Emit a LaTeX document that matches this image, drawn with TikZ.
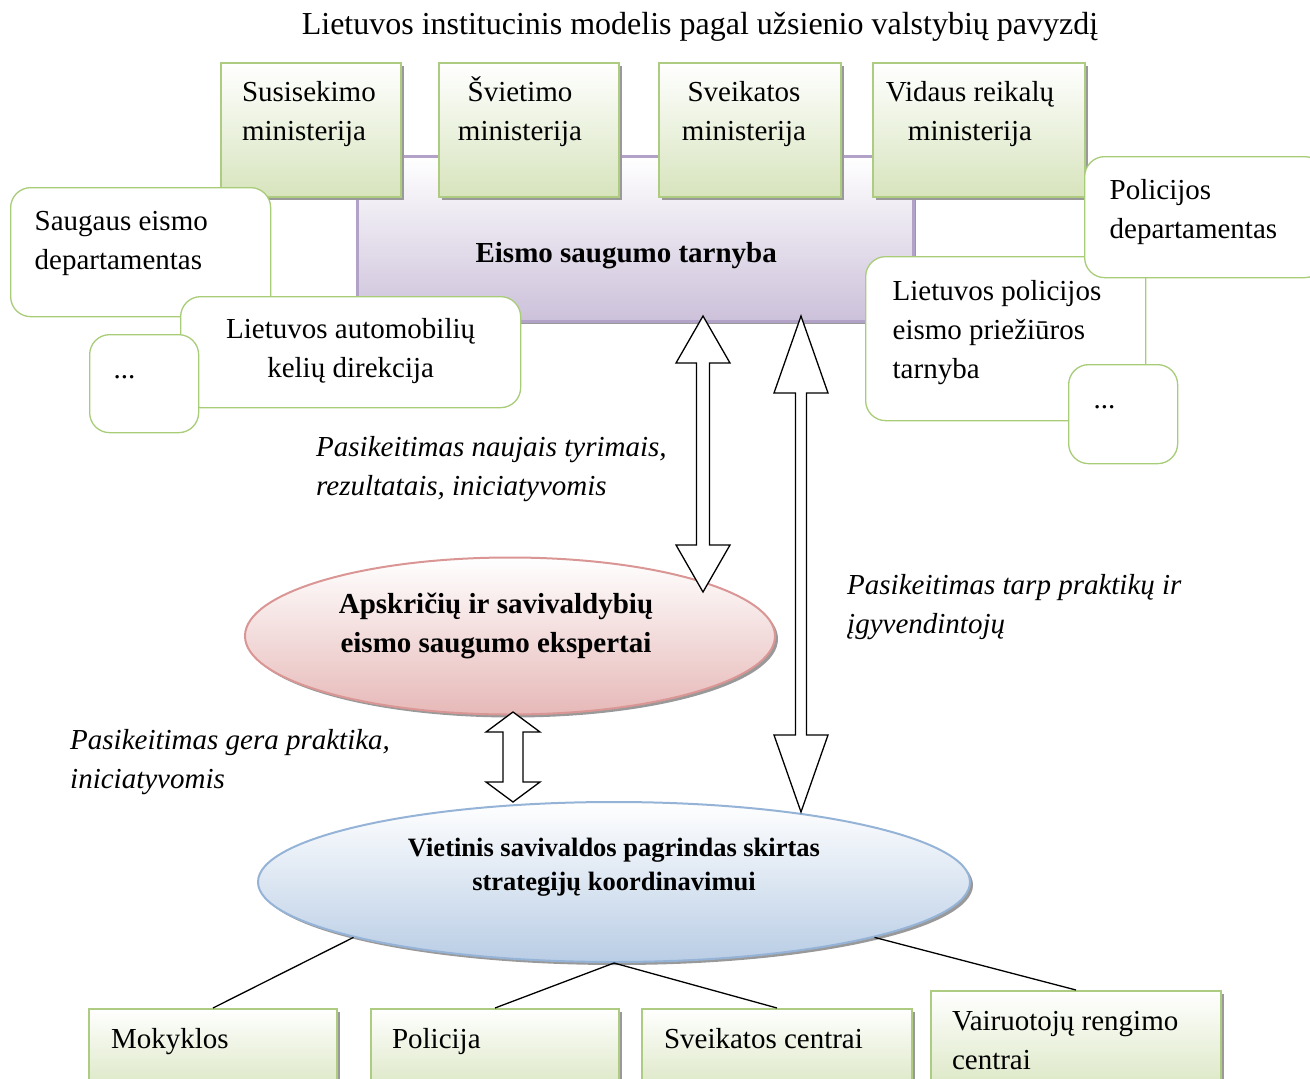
\documentclass[tikz,border=0pt]{standalone}
\usepackage{fontspec}
\setmainfont{Liberation Serif}
\usetikzlibrary{shapes,shadows,positioning,calc}

\definecolor{minborder}{HTML}{AECB82}
\definecolor{minfill}{HTML}{D7E4BD}
\definecolor{ovborder}{HTML}{A8CC78}
\definecolor{tarnborder}{HTML}{B3A2C7}
\definecolor{tarnfill}{HTML}{CCC1DA}
\definecolor{expborder}{HTML}{D99694}
\definecolor{expfill}{HTML}{E6B9B8}
\definecolor{vietborder}{HTML}{95B3D7}
\definecolor{vietfill}{HTML}{B9CDE5}

% text in a box: width, height, first baseline, alignment, text
\newcommand{\boxtxt}[5]{\parbox[c][#2][t]{#1}{#4\rule{0pt}{#3}#5}}
\newcommand{\lft}[1]{\raggedright\leftskip=#1\relax}
\newcommand{\ctr}[1]{\centering\advance\rightskip#1\relax}
% hollow double arrow: top end, bottom end, half shaft, head length
\newcommand{\dblarrow}[4]{%
  \draw[blk] let \p1=(#1), \p2=(#2) in
    (\x1,\y1) -- (\x1+27pt,\y1-#4) -- (\x1+#3,\y1-#4) -- (\x1+#3,\y2+#4) -- (\x1+27pt,\y2+#4)
    -- (\x2,\y2) -- (\x1-27pt,\y2+#4) -- (\x1-#3,\y2+#4) -- (\x1-#3,\y1-#4) -- (\x1-27pt,\y1-#4) -- cycle;}

\begin{document}
\begin{tikzpicture}[x=1pt, y=-1pt,
  every node/.style={font=\fontsize{29}{39}\selectfont},
  shd/.style={drop shadow={shadow xshift=3pt, shadow yshift=-3pt, fill=black!40, opacity=1}},
  minbox/.style={draw=minborder, line width=2pt, top color=white, bottom color=minfill, inner sep=0pt, anchor=north west, shd},
  rbox/.style={draw=ovborder, line width=1.3pt, fill=white, rounded corners=20pt, inner sep=0pt, anchor=north west},
  blk/.style={draw=black, fill=white, line width=1.3pt, line join=miter},
  note/.style={anchor=north west, align=left, inner sep=0pt, font=\fontsize{29}{39}\selectfont\itshape},
  conn/.style={line width=1.3pt}]
\useasboundingbox (0,0) rectangle (1310,1079);

% Title
\node[font=\fontsize{32}{39}\selectfont] (title) at (700,27) {Lietuvos institucinis modelis pagal užsienio valstybių pavyzdį};

% Central service and ministries
\node[draw=tarnborder, line width=2.5pt, top color=white, bottom color=tarnfill, inner sep=0pt, anchor=north west, shd] (tarnyba) at (356,155)
  {\boxtxt{556pt}{165pt}{106pt}{\centering}{\textbf{Eismo saugumo tarnyba}\hspace*{18pt}}};

\node[minbox] (susis) at (220,62) {\boxtxt{180pt}{134pt}{38pt}{\lft{21pt}}{Susisekimo\\ministerija}};
\node[minbox] (sviet) at (438,62) {\boxtxt{180pt}{134pt}{38pt}{\ctr{18pt}}{Švietimo\\ministerija}};
\node[minbox] (sveikmin) at (658,62) {\boxtxt{182pt}{134pt}{38pt}{\ctr{12pt}}{Sveikatos\\ministerija}};
\node[minbox] (vidaus) at (872,62) {\boxtxt{212pt}{134pt}{38pt}{\ctr{18pt}}{Vidaus reikalų\\ministerija}};

% Left institutions
\node[rbox] (saugeism) at (10,187) {\boxtxt{260pt}{129pt}{43pt}{\lft{24pt}}{Saugaus eismo\\departamentas}};
\node[rbox] (lakd) at (180,296) {\boxtxt{340pt}{111pt}{42pt}{\centering}{Lietuvos automobilių\\kelių direkcija}};
\node[rbox] (daugl) at (89,334) {\boxtxt{109pt}{98pt}{44pt}{\lft{24pt}}{...}};

% Right institutions
\node[rbox] (lpeps) at (865,256) {\boxtxt{280pt}{164pt}{44pt}{\lft{27pt}}{Lietuvos policijos\\eismo priežiūros\\tarnyba}};
\node[rbox] (poldep) at (1084,156) {\boxtxt{240pt}{121pt}{43pt}{\lft{25pt}}{Policijos\\departamentas}};
\node[rbox] (daugr) at (1068,364) {\boxtxt{109pt}{99pt}{44pt}{\lft{25pt}}{...}};

% Experts and local base
\node[ellipse, draw=expborder, line width=2pt, top color=white, bottom color=expfill, inner sep=0pt, align=center,
  minimum width=530pt, minimum height=157pt, text depth=26pt, shd, font=\fontsize{29}{39}\selectfont\bfseries] (apsk) at (510,636)
  {Apskričių ir savivaldybių\hspace*{28pt}\\eismo saugumo ekspertai\hspace*{28pt}};
\node[ellipse, draw=vietborder, line width=2pt, top color=white, bottom color=vietfill, inner sep=0pt, align=center,
  minimum width=712pt, minimum height=160pt, text depth=36pt, shd, font=\fontsize{26.5}{34}\selectfont\bfseries] (vietinis) at (614,882)
  {Vietinis savivaldos pagrindas skirtas\\strategijų koordinavimui};

% Exchange arrows
\coordinate (a1top) at (703,316);
\coordinate (a1bot) at (703,592);
\coordinate (a2top) at (801,316);
\coordinate (a2bot) at (801,812);
\coordinate (a3top) at (513,712);
\coordinate (a3bot) at (513,802);
\dblarrow{a1top}{a1bot}{6.5pt}{47pt}
\dblarrow{a2top}{a2bot}{5.5pt}{77pt}
\dblarrow{a3top}{a3bot}{10pt}{20pt}

\node[note] (note1) at (316,436) {Pasikeitimas naujais tyrimais,\\rezultatais, iniciatyvomis};
\node[note] (note2) at (847,574) {Pasikeitimas tarp praktikų ir\\įgyvendintojų};
\node[note] (note3) at (70,729) {Pasikeitimas gera praktika,\\iniciatyvomis};

% Local partners
\node[minbox] (mokyk) at (88,1008) {\boxtxt{248pt}{90pt}{39pt}{\lft{22pt}}{Mokyklos}};
\node[minbox] (polic) at (370,1008) {\boxtxt{248pt}{90pt}{39pt}{\lft{21pt}}{Policija}};
\node[minbox] (sveikc) at (641,1008) {\boxtxt{270pt}{90pt}{39pt}{\lft{22pt}}{Sveikatos centrai}};
\node[minbox] (vairc) at (930,990) {\boxtxt{290pt}{110pt}{39pt}{\lft{21pt}}{Vairuotojų rengimo\\centrai}};

\draw[conn] (vietinis.192) -- (mokyk.north);
\draw[conn] (vietinis.south) -- (polic.north);
\draw[conn] (vietinis.south) -- (sveikc.north);
\draw[conn] (vietinis.348) -- (vairc.north);
\end{tikzpicture}
\end{document}
